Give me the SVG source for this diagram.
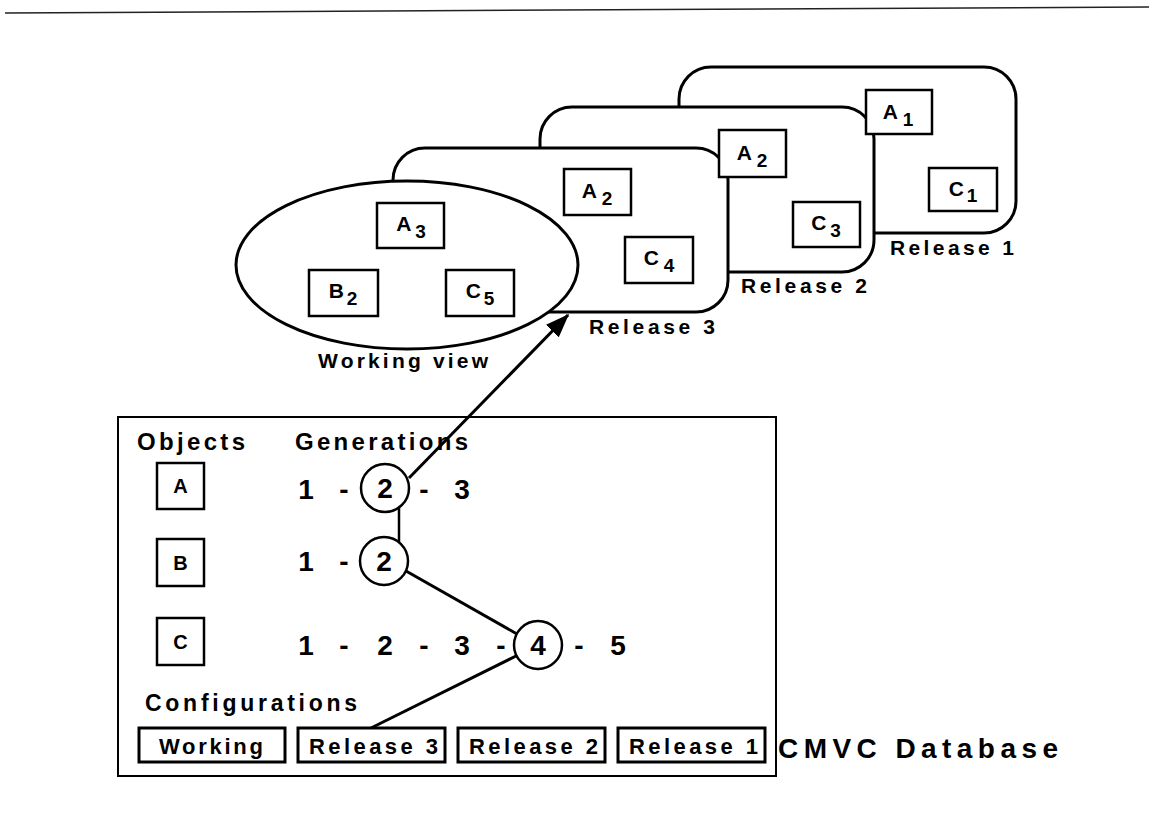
<svg xmlns="http://www.w3.org/2000/svg" width="1149" height="819" viewBox="0 0 1149 819">
<defs>
<style>
text{font-family:"Liberation Sans",Arial,sans-serif;font-weight:bold;fill:#000}
.cont{fill:#fff;stroke:#000;stroke-width:3}
.box{fill:#fff;stroke:#000;stroke-width:2.5}
.cfg{fill:#fff;stroke:#000;stroke-width:3}
.lbl{font-size:21px}
.big{font-size:21px;text-anchor:middle}
.sub{font-size:19px}
.dig{font-size:28px;text-anchor:middle}
.obj{font-size:20px;text-anchor:middle}
.ln{stroke:#000;stroke-width:3;fill:none}
.circ{fill:#fff;stroke:#000;stroke-width:2.5}
</style>
<marker id="arr" markerWidth="8" markerHeight="6" refX="7.5" refY="3" orient="auto" markerUnits="strokeWidth">
<path d="M0,0 L8,3 L0,6 Z" fill="#000"/>
</marker>
</defs>
<rect width="1149" height="819" fill="#fff"/>
<line x1="5" y1="13" x2="1149" y2="7" stroke="#222" stroke-width="1.5"/>

<g id="release1">
<rect class="cont" x="679" y="67" width="337" height="166" rx="32"/>
<text class="lbl" x="890" y="255" textLength="124" lengthAdjust="spacing">Release  1</text>
</g>
<g id="release2">
<rect class="cont" x="540" y="107" width="334" height="165" rx="32"/>
<text class="lbl" x="741" y="293" textLength="126" lengthAdjust="spacing">Release  2</text>
</g>
<g id="release3">
<rect class="cont" x="393" y="148" width="335" height="164" rx="32"/>
<text class="lbl" x="589" y="334" textLength="126" lengthAdjust="spacing">Release  3</text>
</g>
<g id="working-view">
<ellipse class="cont" cx="407" cy="265" rx="171" ry="84"/>
<text class="lbl" x="318" y="368" textLength="170" lengthAdjust="spacing">Working  view</text>
</g>

<g id="r1-a1"><rect class="box" x="866" y="90" width="66" height="44"/><text class="big" x="898" y="119">A<tspan class="sub" dx="5" dy="7">1</tspan></text></g>
<g id="r1-c1"><rect class="box" x="929" y="168" width="68" height="43"/><text class="big" x="963" y="196">C<tspan class="sub" dx="3" dy="6">1</tspan></text></g>
<g id="r2-a2"><rect class="box" x="719" y="130" width="67" height="47"/><text class="big" x="752" y="160">A<tspan class="sub" dx="5" dy="7">2</tspan></text></g>
<g id="r2-c3"><rect class="box" x="793" y="202" width="67" height="45"/><text class="big" x="826" y="230">C<tspan class="sub" dx="4" dy="7">3</tspan></text></g>
<g id="r3-a2"><rect class="box" x="564" y="169" width="67" height="46"/><text class="big" x="597" y="198">A<tspan class="sub" dx="5" dy="7">2</tspan></text></g>
<g id="r3-c4"><rect class="box" x="625" y="237" width="68" height="46"/><text class="big" x="659" y="265">C<tspan class="sub" dx="5" dy="7">4</tspan></text></g>
<g id="wv-a3"><rect class="box" x="377" y="203" width="67" height="45"/><text class="big" x="411" y="231">A<tspan class="sub" dx="4" dy="7">3</tspan></text></g>
<g id="wv-b2"><rect class="box" x="309" y="270" width="69" height="46"/><text class="big" x="343" y="298">B<tspan class="sub" dx="3" dy="7">2</tspan></text></g>
<g id="wv-c5"><rect class="box" x="446" y="270" width="68" height="46"/><text class="big" x="480" y="298">C<tspan class="sub" dx="3" dy="7">5</tspan></text></g>

<g id="cmvc-database">
<rect x="118" y="417" width="658" height="359" fill="none" stroke="#000" stroke-width="2"/>
<text x="137" y="450" font-size="24" textLength="108" lengthAdjust="spacing">Objects</text>
<text x="295" y="450" font-size="24" textLength="173" lengthAdjust="spacing">Generations</text>
<text x="145" y="711" font-size="23" textLength="212" lengthAdjust="spacing">Configurations</text>
<text x="778" y="758" font-size="28" textLength="280" lengthAdjust="spacing">CMVC  Database</text>
</g>

<g id="obj-a"><rect class="box" x="157" y="463" width="47" height="46"/><text class="obj" x="180.5" y="493">A</text></g>
<g id="obj-b"><rect class="box" x="157" y="539" width="47" height="47"/><text class="obj" x="180.5" y="570">B</text></g>
<g id="obj-c"><rect class="box" x="157" y="618" width="47" height="47"/><text class="obj" x="180.5" y="649">C</text></g>

<g id="gen-a">
<text class="dig" x="306" y="499">1</text><text class="dig" x="344" y="499">-</text>
<text class="dig" x="424" y="499">-</text><text class="dig" x="462" y="499">3</text>
</g>
<g id="gen-b">
<text class="dig" x="306" y="571">1</text><text class="dig" x="344" y="571">-</text>
</g>
<g id="gen-c">
<text class="dig" x="306" y="655">1</text><text class="dig" x="344" y="655">-</text>
<text class="dig" x="385" y="655">2</text><text class="dig" x="424" y="655">-</text>
<text class="dig" x="462" y="655">3</text><text class="dig" x="501" y="655">-</text>
<text class="dig" x="579" y="655">-</text><text class="dig" x="618" y="655">5</text>
</g>

<g id="cfg-working"><rect class="cfg" x="139" y="728" width="146" height="34"/><text x="159" y="754" font-size="22" textLength="104" lengthAdjust="spacing">Working</text></g>
<g id="cfg-release3"><rect class="cfg" x="298" y="728" width="147" height="34"/><text x="309" y="754" font-size="22" textLength="129" lengthAdjust="spacing">Release  3</text></g>
<g id="cfg-release2"><rect class="cfg" x="458" y="728" width="147" height="34"/><text x="469" y="754" font-size="22" textLength="129" lengthAdjust="spacing">Release  2</text></g>
<g id="cfg-release1"><rect class="cfg" x="618" y="728" width="147" height="34"/><text x="629" y="754" font-size="22" textLength="129" lengthAdjust="spacing">Release  1</text></g>

<g id="connectors">
<line class="ln" x1="409" y1="478" x2="568" y2="315" marker-end="url(#arr)"/>
<line x1="399" y1="507" x2="399" y2="542" stroke="#000" stroke-width="2.5"/>
<line class="ln" x1="406" y1="571" x2="517" y2="634"/>
<line class="ln" x1="516" y1="656" x2="371" y2="728"/>
</g>

<g id="circ-a2"><circle class="circ" cx="385" cy="488" r="24"/><text class="dig" x="385" y="498">2</text></g>
<g id="circ-b2"><circle class="circ" cx="384" cy="561" r="24"/><text class="dig" x="384" y="571">2</text></g>
<g id="circ-c4"><circle class="circ" cx="538" cy="645" r="24"/><text class="dig" x="538" y="655">4</text></g>
</svg>
